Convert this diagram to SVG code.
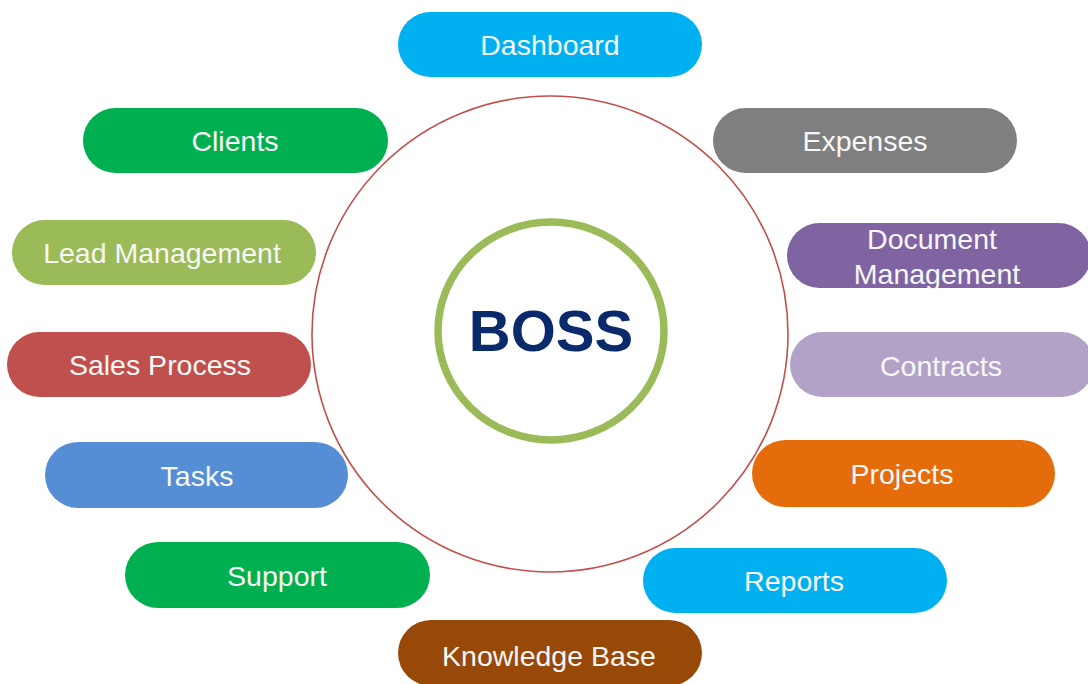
<svg xmlns="http://www.w3.org/2000/svg" width="1088" height="684" viewBox="0 0 1088 684">
  <style>
    .pill { stroke: none; }
    .lbl { font-family: "Liberation Sans", Arial, sans-serif; font-size: 28.5px; fill: #f7f7f7; text-anchor: middle; }
    .core { font-family: "Liberation Sans", Arial, sans-serif; font-size: 58px; font-weight: bold; fill: #0a2a6b; text-anchor: middle; }
  </style>
  <rect width="1088" height="684" fill="#ffffff"/>

  <!-- outer ring and hub -->
  <g id="ring">
    <circle cx="550" cy="334" r="238" fill="none" stroke="#c0504d" stroke-width="1.6"/>
  </g>
  <g id="hub">
    <ellipse cx="551" cy="331" rx="113" ry="109" fill="#ffffff" stroke="#9bbb59" stroke-width="7.5"/>
    <text class="core" x="551" y="351">BOSS</text>
  </g>

  <!-- module pills -->
  <g id="dashboard">
    <rect class="pill" x="398" y="12" width="304" height="65" rx="32.5" fill="#00b0f0"/>
    <text class="lbl" x="550" y="55">Dashboard</text>
  </g>
  <g id="clients">
    <rect class="pill" x="83" y="108" width="305" height="65" rx="32.5" fill="#00b050"/>
    <text class="lbl" x="235" y="151">Clients</text>
  </g>
  <g id="expenses">
    <rect class="pill" x="713" y="108" width="304" height="65" rx="32.5" fill="#7f7f7f"/>
    <text class="lbl" x="865" y="151">Expenses</text>
  </g>
  <g id="lead-management">
    <rect class="pill" x="12" y="220" width="304" height="65" rx="32.5" fill="#9bbb59"/>
    <text class="lbl" x="162" y="263">Lead Management</text>
  </g>
  <g id="document-management">
    <rect class="pill" x="787" y="223" width="304" height="65" rx="32.5" fill="#8064a2"/>
    <text class="lbl" x="932" y="249">Document</text>
    <text class="lbl" x="937" y="284">Management</text>
  </g>
  <g id="sales-process">
    <rect class="pill" x="7" y="332" width="304" height="65" rx="32.5" fill="#c0504d"/>
    <text class="lbl" x="160" y="375">Sales Process</text>
  </g>
  <g id="contracts">
    <rect class="pill" x="790" y="332" width="304" height="65" rx="32.5" fill="#b3a2c7"/>
    <text class="lbl" x="941" y="376">Contracts</text>
  </g>
  <g id="tasks">
    <rect class="pill" x="45" y="442" width="303" height="66" rx="33" fill="#558ed5"/>
    <text class="lbl" x="197" y="486">Tasks</text>
  </g>
  <g id="projects">
    <rect class="pill" x="752" y="440" width="303" height="67" rx="33.5" fill="#e46c0a"/>
    <text class="lbl" x="902" y="484">Projects</text>
  </g>
  <g id="support">
    <rect class="pill" x="125" y="542" width="305" height="66" rx="33" fill="#00b050"/>
    <text class="lbl" x="277" y="586">Support</text>
  </g>
  <g id="reports">
    <rect class="pill" x="643" y="548" width="304" height="65" rx="32.5" fill="#00b0f0"/>
    <text class="lbl" x="794" y="591">Reports</text>
  </g>
  <g id="knowledge-base">
    <rect class="pill" x="398" y="620" width="304" height="66" rx="33" fill="#984807"/>
    <text class="lbl" x="549" y="666">Knowledge Base</text>
  </g>

  <g id="connectors"></g>
</svg>
